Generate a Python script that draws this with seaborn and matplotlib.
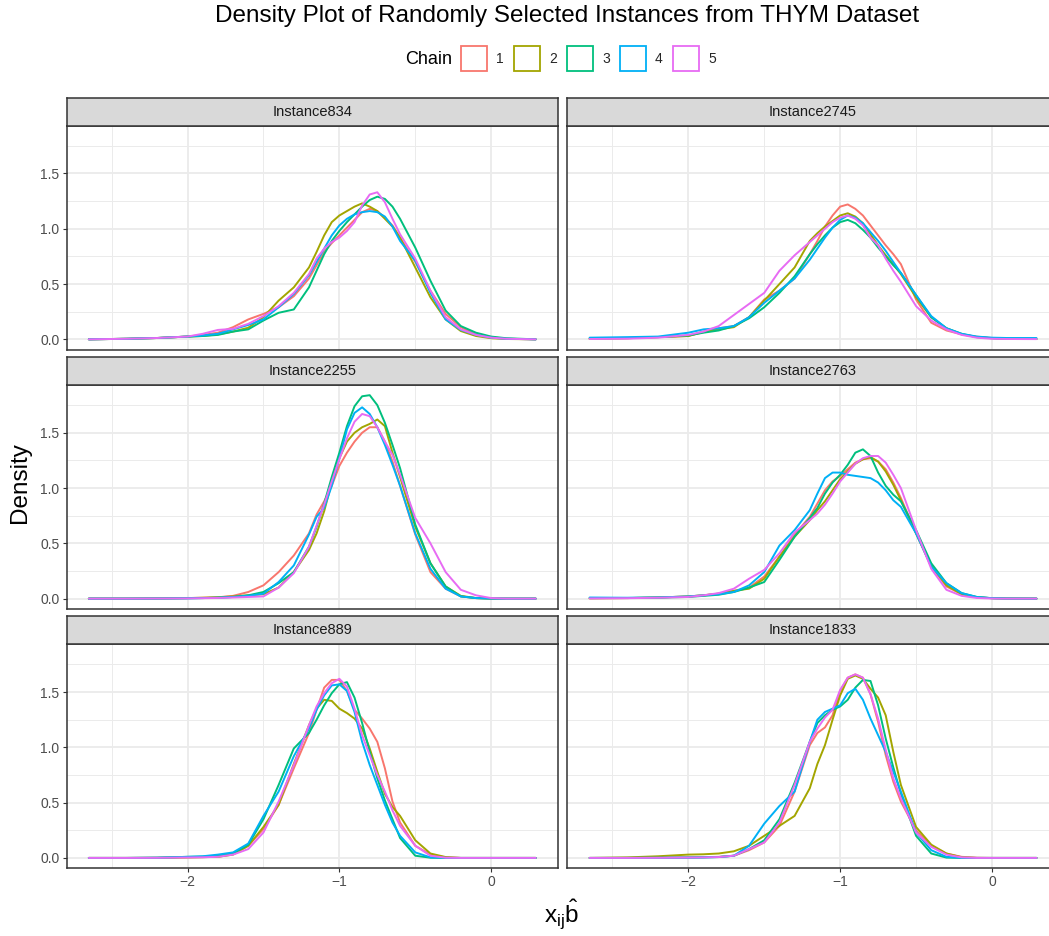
import matplotlib
matplotlib.use("Agg")
import numpy as np
import pandas as pd
import matplotlib.pyplot as plt
import seaborn as sns
from matplotlib.patches import Patch
from matplotlib.ticker import MultipleLocator

# grid of x values
xs = [-2.65, -2.4, -2.2, -2.0, -1.9, -1.8, -1.7, -1.6, -1.5, -1.4, -1.3, -1.2,
      -1.15, -1.1, -1.05, -1.0, -0.95, -0.9, -0.85, -0.8, -0.75, -0.7, -0.65,
      -0.6, -0.5, -0.4, -0.3, -0.2, -0.1, 0.0, 0.1, 0.293]

chains = ["1", "2", "3", "4", "5"]

inst834 = {
    "1": [0, 0.005, 0.012, 0.025, 0.04, 0.06, 0.11, 0.18, 0.23, 0.29, 0.39, 0.55, 0.67, 0.79, 0.87, 0.94,
          1.01, 1.08, 1.15, 1.18, 1.16, 1.10, 1.03, 0.92, 0.70, 0.44, 0.23, 0.11, 0.045, 0.02, 0.005, 0],
    "2": [0, 0.005, 0.012, 0.025, 0.03, 0.045, 0.07, 0.105, 0.2, 0.35, 0.47, 0.65, 0.79, 0.94, 1.06, 1.12,
          1.16, 1.2, 1.23, 1.2, 1.16, 1.09, 1.02, 0.92, 0.65, 0.38, 0.18, 0.075, 0.03, 0.01, 0.003, 0],
    "3": [0, 0.005, 0.012, 0.025, 0.03, 0.04, 0.07, 0.09, 0.17, 0.24, 0.27, 0.47, 0.62, 0.77, 0.89, 0.98,
          1.06, 1.13, 1.2, 1.26, 1.29, 1.27, 1.2, 1.09, 0.83, 0.53, 0.26, 0.12, 0.06, 0.025, 0.01, 0],
    "4": [0, 0.005, 0.012, 0.025, 0.035, 0.05, 0.09, 0.13, 0.18, 0.29, 0.41, 0.58, 0.7, 0.82, 0.94, 1.03,
          1.09, 1.13, 1.15, 1.16, 1.15, 1.11, 1.02, 0.89, 0.71, 0.42, 0.18, 0.085, 0.04, 0.015, 0.005, 0],
    "5": [0, 0.005, 0.012, 0.025, 0.05, 0.085, 0.095, 0.14, 0.21, 0.3, 0.42, 0.59, 0.73, 0.82, 0.88, 0.92,
          0.98, 1.06, 1.21, 1.31, 1.33, 1.24, 1.09, 0.95, 0.73, 0.44, 0.2, 0.09, 0.04, 0.015, 0.005, 0],
}

inst2745 = {
    "1": [0.005, 0.01, 0.02, 0.03, 0.065, 0.1, 0.12, 0.2, 0.36, 0.44, 0.55, 0.77, 0.89, 1.02, 1.12, 1.2,
          1.22, 1.18, 1.12, 1.03, 0.94, 0.85, 0.77, 0.68, 0.36, 0.15, 0.08, 0.045, 0.024, 0.012, 0.005, 0.003],
    "2": [0.005, 0.01, 0.02, 0.03, 0.07, 0.09, 0.11, 0.2, 0.35, 0.5, 0.65, 0.89, 0.96, 1.02, 1.07, 1.12,
          1.14, 1.11, 1.05, 0.95, 0.85, 0.76, 0.68, 0.59, 0.38, 0.2, 0.1, 0.045, 0.02, 0.01, 0.005, 0.003],
    "3": [0.008, 0.012, 0.02, 0.035, 0.06, 0.08, 0.12, 0.19, 0.29, 0.42, 0.57, 0.77, 0.86, 0.94, 1.01, 1.06,
          1.08, 1.05, 0.99, 0.92, 0.83, 0.75, 0.67, 0.6, 0.4, 0.2, 0.1, 0.05, 0.02, 0.01, 0.005, 0.003],
    "4": [0.015, 0.02, 0.025, 0.06, 0.09, 0.1, 0.12, 0.2, 0.33, 0.44, 0.55, 0.72, 0.82, 0.92, 1.01, 1.08,
          1.12, 1.1, 1.05, 0.97, 0.89, 0.8, 0.7, 0.6, 0.4, 0.21, 0.1, 0.05, 0.025, 0.015, 0.012, 0.012],
    "5": [0.003, 0.006, 0.015, 0.04, 0.07, 0.12, 0.22, 0.32, 0.42, 0.62, 0.76, 0.88, 0.94, 1.0, 1.06, 1.1,
          1.12, 1.09, 1.03, 0.92, 0.85, 0.73, 0.62, 0.52, 0.3, 0.17, 0.09, 0.04, 0.015, 0.005, 0.003, 0.002],
}

inst2255 = {
    "1": [0, 0, 0.002, 0.005, 0.008, 0.012, 0.025, 0.06, 0.12, 0.24, 0.39, 0.59, 0.76, 0.88, 1.02, 1.2,
          1.32, 1.42, 1.5, 1.55, 1.55, 1.42, 1.24, 1.02, 0.58, 0.24, 0.09, 0.02, 0.005, 0.001, 0, 0],
    "2": [0, 0, 0.002, 0.005, 0.008, 0.012, 0.02, 0.03, 0.04, 0.1, 0.24, 0.44, 0.59, 0.79, 1.05, 1.27,
          1.42, 1.5, 1.55, 1.58, 1.62, 1.56, 1.32, 1.1, 0.65, 0.32, 0.11, 0.025, 0.005, 0.001, 0, 0],
    "3": [0, 0, 0.001, 0.003, 0.005, 0.008, 0.015, 0.03, 0.06, 0.14, 0.24, 0.47, 0.65, 0.86, 1.1, 1.32,
          1.56, 1.74, 1.83, 1.84, 1.75, 1.59, 1.39, 1.18, 0.67, 0.32, 0.11, 0.02, 0.005, 0.001, 0, 0],
    "4": [0, 0, 0.001, 0.003, 0.005, 0.008, 0.015, 0.025, 0.045, 0.15, 0.3, 0.58, 0.74, 0.82, 1.02, 1.27,
          1.53, 1.68, 1.73, 1.67, 1.55, 1.39, 1.21, 1.02, 0.59, 0.27, 0.09, 0.02, 0.005, 0.001, 0, 0],
    "5": [0, 0, 0.001, 0.002, 0.004, 0.006, 0.01, 0.015, 0.02, 0.1, 0.23, 0.47, 0.66, 0.85, 1.06, 1.26,
          1.45, 1.6, 1.67, 1.65, 1.55, 1.42, 1.3, 1.12, 0.73, 0.5, 0.24, 0.08, 0.03, 0.005, 0, 0],
}

inst2763 = {
    "1": [0.003, 0.005, 0.01, 0.02, 0.03, 0.045, 0.07, 0.1, 0.2, 0.38, 0.58, 0.74, 0.86, 0.98, 1.06, 1.11,
          1.17, 1.23, 1.26, 1.27, 1.24, 1.17, 1.05, 0.91, 0.59, 0.29, 0.11, 0.04, 0.012, 0.004, 0.001, 0],
    "2": [0.003, 0.005, 0.01, 0.02, 0.03, 0.045, 0.07, 0.09, 0.18, 0.38, 0.56, 0.71, 0.8, 0.88, 0.98, 1.08,
          1.15, 1.22, 1.26, 1.28, 1.24, 1.15, 1.03, 0.89, 0.59, 0.3, 0.12, 0.04, 0.012, 0.004, 0.001, 0],
    "3": [0.005, 0.006, 0.01, 0.015, 0.025, 0.035, 0.06, 0.1, 0.15, 0.35, 0.56, 0.73, 0.82, 0.95, 1.05, 1.12,
          1.21, 1.32, 1.35, 1.29, 1.14, 1.02, 0.94, 0.88, 0.62, 0.32, 0.14, 0.05, 0.015, 0.004, 0.001, 0],
    "4": [0.01, 0.008, 0.01, 0.02, 0.03, 0.04, 0.06, 0.12, 0.24, 0.48, 0.62, 0.8, 0.95, 1.09, 1.14, 1.14,
          1.12, 1.11, 1.1, 1.09, 1.05, 0.98, 0.89, 0.83, 0.59, 0.29, 0.14, 0.05, 0.015, 0.004, 0.001, 0],
    "5": [0.002, 0.004, 0.008, 0.015, 0.03, 0.05, 0.09, 0.18, 0.26, 0.41, 0.6, 0.71, 0.77, 0.85, 0.95, 1.06,
          1.14, 1.22, 1.27, 1.29, 1.29, 1.23, 1.12, 1.0, 0.62, 0.27, 0.08, 0.025, 0.006, 0.001, 0, 0],
}

inst889 = {
    "1": [0, 0, 0.001, 0.005, 0.007, 0.01, 0.035, 0.11, 0.26, 0.48, 0.81, 1.13, 1.34, 1.54, 1.61, 1.61,
          1.51, 1.34, 1.26, 1.17, 1.05, 0.81, 0.51, 0.32, 0.11, 0.03, 0.005, 0, 0, 0, 0, 0],
    "2": [0, 0, 0.001, 0.005, 0.007, 0.01, 0.03, 0.11, 0.28, 0.48, 0.85, 1.2, 1.35, 1.43, 1.42, 1.35,
          1.31, 1.26, 1.17, 0.99, 0.78, 0.58, 0.46, 0.38, 0.16, 0.04, 0.008, 0, 0, 0, 0, 0],
    "3": [0, 0, 0.002, 0.01, 0.012, 0.02, 0.04, 0.12, 0.35, 0.66, 0.99, 1.13, 1.25, 1.38, 1.49, 1.57,
          1.59, 1.45, 1.22, 0.96, 0.72, 0.52, 0.35, 0.18, 0.02, 0.002, 0, 0, 0, 0, 0, 0],
    "4": [0, 0, 0.002, 0.01, 0.015, 0.03, 0.05, 0.13, 0.38, 0.6, 0.92, 1.17, 1.34, 1.47, 1.56, 1.57,
          1.51, 1.32, 1.05, 0.84, 0.66, 0.48, 0.32, 0.2, 0.05, 0.005, 0, 0, 0, 0, 0, 0],
    "5": [0, 0, 0.001, 0.004, 0.006, 0.01, 0.03, 0.08, 0.23, 0.51, 0.84, 1.2, 1.37, 1.49, 1.58, 1.62,
          1.55, 1.35, 1.11, 0.93, 0.75, 0.6, 0.43, 0.29, 0.11, 0.02, 0.002, 0, 0, 0, 0, 0],
}

inst1833 = {
    "1": [0, 0, 0.002, 0.005, 0.007, 0.01, 0.02, 0.07, 0.14, 0.29, 0.6, 1.02, 1.13, 1.18, 1.29, 1.51,
          1.63, 1.66, 1.63, 1.48, 1.23, 0.93, 0.69, 0.51, 0.25, 0.11, 0.04, 0.01, 0.002, 0, 0, 0],
    "2": [0, 0.005, 0.015, 0.03, 0.033, 0.04, 0.06, 0.11, 0.2, 0.29, 0.38, 0.63, 0.85, 1.02, 1.25, 1.47,
          1.62, 1.65, 1.62, 1.53, 1.45, 1.29, 0.96, 0.66, 0.28, 0.12, 0.04, 0.006, 0, 0, 0, 0],
    "3": [0, 0, 0.001, 0.003, 0.005, 0.008, 0.02, 0.08, 0.16, 0.35, 0.68, 1.05, 1.22, 1.29, 1.34, 1.37,
          1.43, 1.54, 1.61, 1.6, 1.38, 1.08, 0.82, 0.58, 0.2, 0.04, 0.003, 0, 0, 0, 0, 0],
    "4": [0, 0, 0.001, 0.003, 0.005, 0.008, 0.02, 0.11, 0.31, 0.47, 0.6, 1.05, 1.25, 1.32, 1.35, 1.38,
          1.49, 1.53, 1.43, 1.26, 1.11, 0.96, 0.78, 0.6, 0.23, 0.07, 0.01, 0, 0, 0, 0, 0],
    "5": [0, 0, 0.001, 0.003, 0.005, 0.008, 0.02, 0.08, 0.14, 0.32, 0.66, 1.05, 1.17, 1.27, 1.34, 1.52,
          1.63, 1.66, 1.63, 1.48, 1.26, 0.98, 0.72, 0.54, 0.23, 0.1, 0.03, 0.005, 0, 0, 0, 0],
}

panels = [("Instance834", inst834), ("Instance2745", inst2745),
          ("Instance2255", inst2255), ("Instance2763", inst2763),
          ("Instance889", inst889), ("Instance1833", inst1833)]

palette = dict(zip(chains, ["#F8766D", "#A3A500", "#00BF7D", "#00B0F6", "#E76BF3"]))

sns.set_theme(style="white")
plt.rcParams["font.family"] = ["Liberation Sans", "DejaVu Sans"]
plt.rcParams["mathtext.fontset"] = "custom"
plt.rcParams["mathtext.rm"] = "Liberation Sans"
plt.rcParams["mathtext.it"] = "Liberation Sans:italic"

W, H = 1049, 936
fig = plt.figure(figsize=(W / 100, H / 100), dpi=100)
fig.patch.set_facecolor("white")


def px_axes(x0, y0, w, h):
    return fig.add_axes([x0 / W, 1 - (y0 + h) / H, w / W, h / H])


# shared scales (ggplot style 5% expansion)
xlo, xhi = min(xs), max(xs)
xpad = 0.05 * (xhi - xlo)
ymax = max(max(v) for _, d in panels for v in d.values())
ypad = 0.05 * ymax

col_x = [66.5, 567.3]
row_y = [125.7, 385.0, 644.3]
pw, ph, sh = 491.5, 223.8, 28

for i, (name, d) in enumerate(panels):
    r, c = divmod(i, 2)
    ax = px_axes(col_x[c], row_y[r], pw, ph)
    df = pd.DataFrame([(x, y, ch) for ch in chains for x, y in zip(xs, d[ch])],
                      columns=["x", "density", "Chain"])
    sns.lineplot(data=df, x="x", y="density", hue="Chain", palette=palette,
                 estimator=None, sort=False, legend=False, linewidth=1.4, ax=ax)
    ax.set_xlim(xlo - xpad, xhi + xpad)
    ax.set_ylim(-ypad, ymax + ypad)
    ax.xaxis.set_major_locator(MultipleLocator(1))
    ax.xaxis.set_minor_locator(MultipleLocator(0.5))
    ax.yaxis.set_major_locator(MultipleLocator(0.5))
    ax.yaxis.set_minor_locator(MultipleLocator(0.25))
    ax.yaxis.set_major_formatter(matplotlib.ticker.FormatStrFormatter("%.1f"))
    ax.set_axisbelow(True)
    ax.grid(which="major", color="#EBEBEB", linewidth=1.3)
    ax.grid(which="minor", color="#EBEBEB", linewidth=0.7)
    for sp in ax.spines.values():
        sp.set_color("#333333")
        sp.set_linewidth(1.1)
    ax.set_xlabel("")
    ax.set_ylabel("")
    ax.tick_params(which="major", length=3.2, width=0.8, color="#333333",
                   labelcolor="#4D4D4D", labelsize=10, pad=2,
                   left=(c == 0), labelleft=(c == 0),
                   bottom=(r == 2), labelbottom=(r == 2))
    ax.tick_params(which="minor", length=0)

    sax = px_axes(col_x[c], row_y[r] - sh, pw, sh)
    sax.set_facecolor("#D9D9D9")
    sax.set_xticks([])
    sax.set_yticks([])
    for sp in sax.spines.values():
        sp.set_color("#333333")
        sp.set_linewidth(1.1)
    sax.text(0.5, 0.5, name, ha="center", va="center", fontsize=10.5,
             color="#1A1A1A", transform=sax.transAxes)

# legend on top
handles = [Patch(facecolor="white", edgecolor=palette[ch], linewidth=1.3) for ch in chains]
fig.legend(handles, chains, loc="center left", bbox_to_anchor=(461 / W, 1 - 58.5 / H),
           ncol=5, frameon=False, fontsize=10, handlelength=1.9, handleheight=2.4,
           handletextpad=0.65, columnspacing=0.7, borderpad=0, borderaxespad=0)
fig.text(405 / W, 1 - 59 / H, "Chain", ha="left", va="center", fontsize=13, color="black")

fig.text(567 / W, 1 - 16 / H, "Density Plot of Randomly Selected Instances from THYM Dataset",
         ha="center", va="center", fontsize=17.5, color="black")
fig.text(20 / W, 1 - 483 / H, "Density", rotation=90, ha="center", va="center",
         fontsize=17.5, color="black")
fig.text(562 / W, 1 - 914 / H, r"$\mathrm{x}_{\mathrm{ij}}\hat{\mathrm{b}}$",
         ha="center", va="center", fontsize=17.5, color="black")

fig.savefig("out.png", dpi=100, facecolor="white")
